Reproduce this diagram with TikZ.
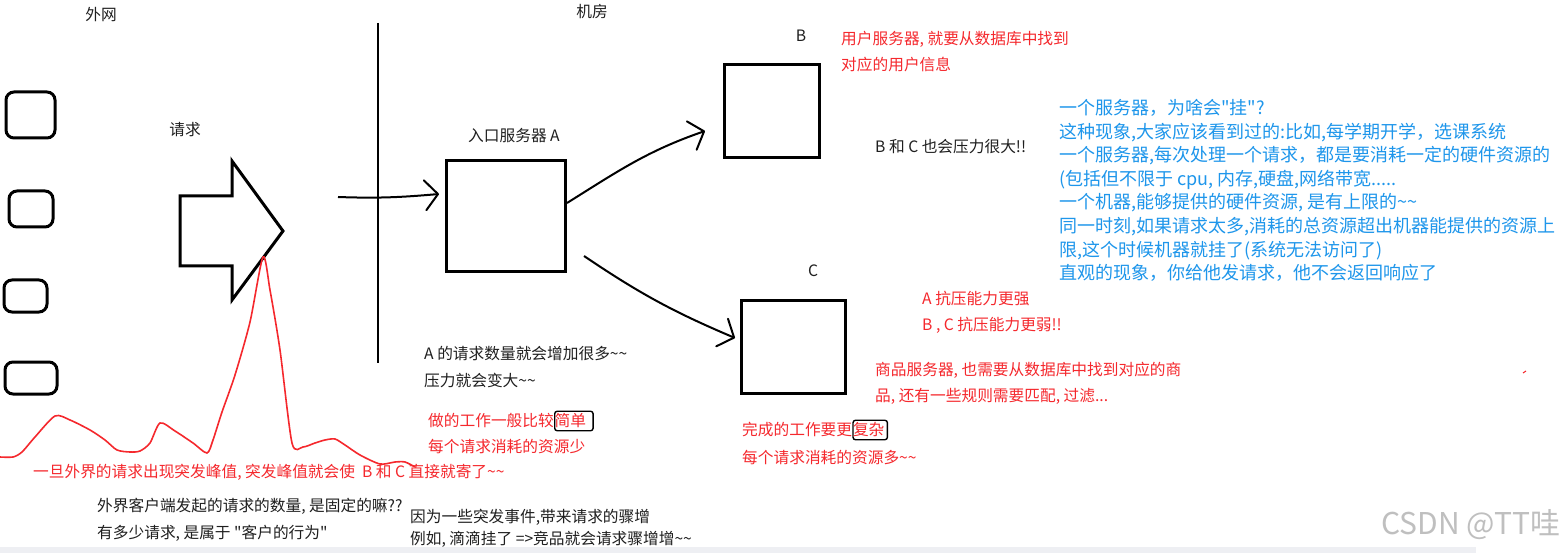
\documentclass[tikz,border=0pt]{standalone}
\usepackage{fontspec}
\newfontfamily\cjk{Noto Sans CJK SC}
\usetikzlibrary{arrows.meta,positioning}
\tikzset{
  txt/.style={font=\cjk\fontsize{15.7}{18}\selectfont,text=black!88,inner sep=0pt,anchor=west},
  redtxt/.style={txt,text=hongse},
  bluetxt/.style={txt,font=\cjk\fontsize{18}{23.6}\selectfont,text=lanse,align=left,anchor=north west},
  server/.style={draw,line width=3pt,inner sep=0pt},
  client/.style={draw,line width=3pt,rounded corners=8pt,inner sep=0pt,anchor=north west},
  hand/.style={line width=2pt,-{Straight Barb[length=13pt,width=30pt,round]}},
  markbox/.style={draw=black,line width=1.4pt,rounded corners=2.5pt,inner xsep=0pt,inner ysep=2.5pt}
}
\begin{document}
\begin{tikzpicture}[x=1pt,y=-1pt]
\definecolor{hongse}{RGB}{245,40,45}
\definecolor{lanse}{RGB}{30,150,235}
\definecolor{bandgrey}{RGB}{238,239,243}
\useasboundingbox (0,0) rectangle (1560,553);
\fill[white] (0,0) rectangle (1560,553);
\fill[bandgrey] (0,547) rectangle (1476,553);

\node[txt,anchor=center] (outside) at (101,15) {外网};
\node[txt,anchor=center] (room) at (592,12) {机房};
\node[txt,anchor=center] (req) at (185,130) {请求};

\foreach \x/\y/\ww/\hh [count=\i] in {3/89/49/46, 6/188/44/36, 1/277/43/32, 2/359/52/32}{
  \node[client,minimum width=\ww,minimum height=\hh] (client\i) at (\x+1.5,\y+1.5) {};
}

\draw[line width=3pt] (180,196) -- (232,196) -- (232,161) -- (283,231) -- (232,300)
  -- (232,266) -- (180,266) -- cycle;

\draw[line width=2.7pt] (378,23) -- (378,363);

\node[server,minimum width=119,minimum height=111] (A) at (506,216) {};
\node[server,minimum width=95,minimum height=93] (B) at (772,111) {};
\node[server,minimum width=104,minimum height=93] (C) at (793.5,347) {};
\node[txt,anchor=center] (Alabel) at (514,136) {入口服务器 A};
\node[txt,anchor=center] (Blabel) at (801,36) {B};
\node[txt,anchor=center] (Clabel) at (813,271) {C};

\coordinate (inS) at (338,197);
\draw[hand] (inS) to[out=-2,in=185] ([shift={(-6,-22)}]A.west);
\draw[hand] ([shift={(0,-13)}]A.east) to[out=32,in=199] ([shift={(-18,20)}]B.west);
\draw[hand] ([shift={(17,40)}]A.east) to[out=-34,in=157] ([shift={(-5,-9)}]C.west);

\draw[hongse,line width=1.6pt] plot[smooth,tension=0.45] coordinates {
  (0,457) (13,457) (22,452) (35,437) (55,416) (70,420) (90,430) (105,440) (117,450)
  (130,452) (140,451) (150,443) (160,423) (175,431) (193,443) (207,453) (213,440)
  (222,412) (235,375) (250,322) (263,257) (270,290) (280,350) (292,443) (303,447)
  (315,443) (325,440) (335,439) (345,445) (360,455) (380,464) (395,462) (405,462) (415,467)};

\node[redtxt] (userA) at (841,39) {用户服务器, 就要从数据库中找到};
\node[redtxt] (userB) at (841,65) {对应的用户信息};
\node[txt] (pressBC) at (875,147) {B 和 C 也会压力很大!!};

\node[bluetxt] (note) at (1059,99) {一个服务器，为啥会"挂"?\\
  这种现象,大家应该看到过的:比如,每学期开学，选课系统\\
  一个服务器,每次处理一个请求，都是要消耗一定的硬件资源的\\
  (包括但不限于 cpu, 内存,硬盘,网络带宽.....\\
  一个机器,能够提供的硬件资源, 是有上限的\textasciitilde\textasciitilde\\
  同一时刻,如果请求太多,消耗的总资源超出机器能提供的资源上\\
  限,这个时候机器就挂了(系统无法访问了)\\
  直观的现象，你给他发请求，他不会返回响应了};

\node[redtxt] (strongA) at (922,299) {A 抗压能力更强};
\node[redtxt] (weakBC) at (922,325) {B , C 抗压能力更弱!!};
\node[redtxt] (goodsA) at (875,370) {商品服务器, 也需要从数据库中找到对应的商};
\node[redtxt] (goodsB) at (875,396) {品, 还有一些规则需要匹配, 过滤...};

\node[txt] (moreA) at (424,354) {A 的请求数量就会增加很多\textasciitilde\textasciitilde};
\node[txt] (moreB) at (424,380) {压力就会变大\textasciitilde\textasciitilde};
\node[redtxt] (easyA) at (428,421) {做的工作一般比较};
\node[redtxt,markbox,right=0pt of easyA] (easy) {简单\kern7pt};
\node[redtxt] (easyB) at (428,447) {每个请求消耗的资源少};
\node[redtxt] (hardA) at (742,430) {完成的工作要更};
\node[redtxt,markbox,right=0pt of hardA] (hard) {复杂\kern3pt};
\node[redtxt] (hardB) at (742,457) {每个请求消耗的资源多\textasciitilde\textasciitilde};

\node[redtxt] (peak) at (33,472) {一旦外界的请求出现突发峰值, 突发峰值就会使\ \ B 和 C 直接就寄了\textasciitilde\textasciitilde};
\node[txt] (askA) at (97,506) {外界客户端发起的请求的数量, 是固定的嘛??};
\node[txt] (askB) at (97,533) {有多少请求, 是属于 "客户的行为"};
\node[txt] (surgeA) at (410,517) {因为一些突发事件,带来请求的骤增};
\node[txt] (surgeB) at (410,539) {例如, 滴滴挂了 =>竞品就会请求骤增增\textasciitilde\textasciitilde};

\draw[hongse,line width=1pt] (1523,373) -- (1526,371);
\node[font=\cjk\fontsize{30}{32}\selectfont,text=black!25,anchor=east,inner sep=0pt] (mark) at (1561,525) {CSDN @TT哇};
\end{tikzpicture}
\end{document}
